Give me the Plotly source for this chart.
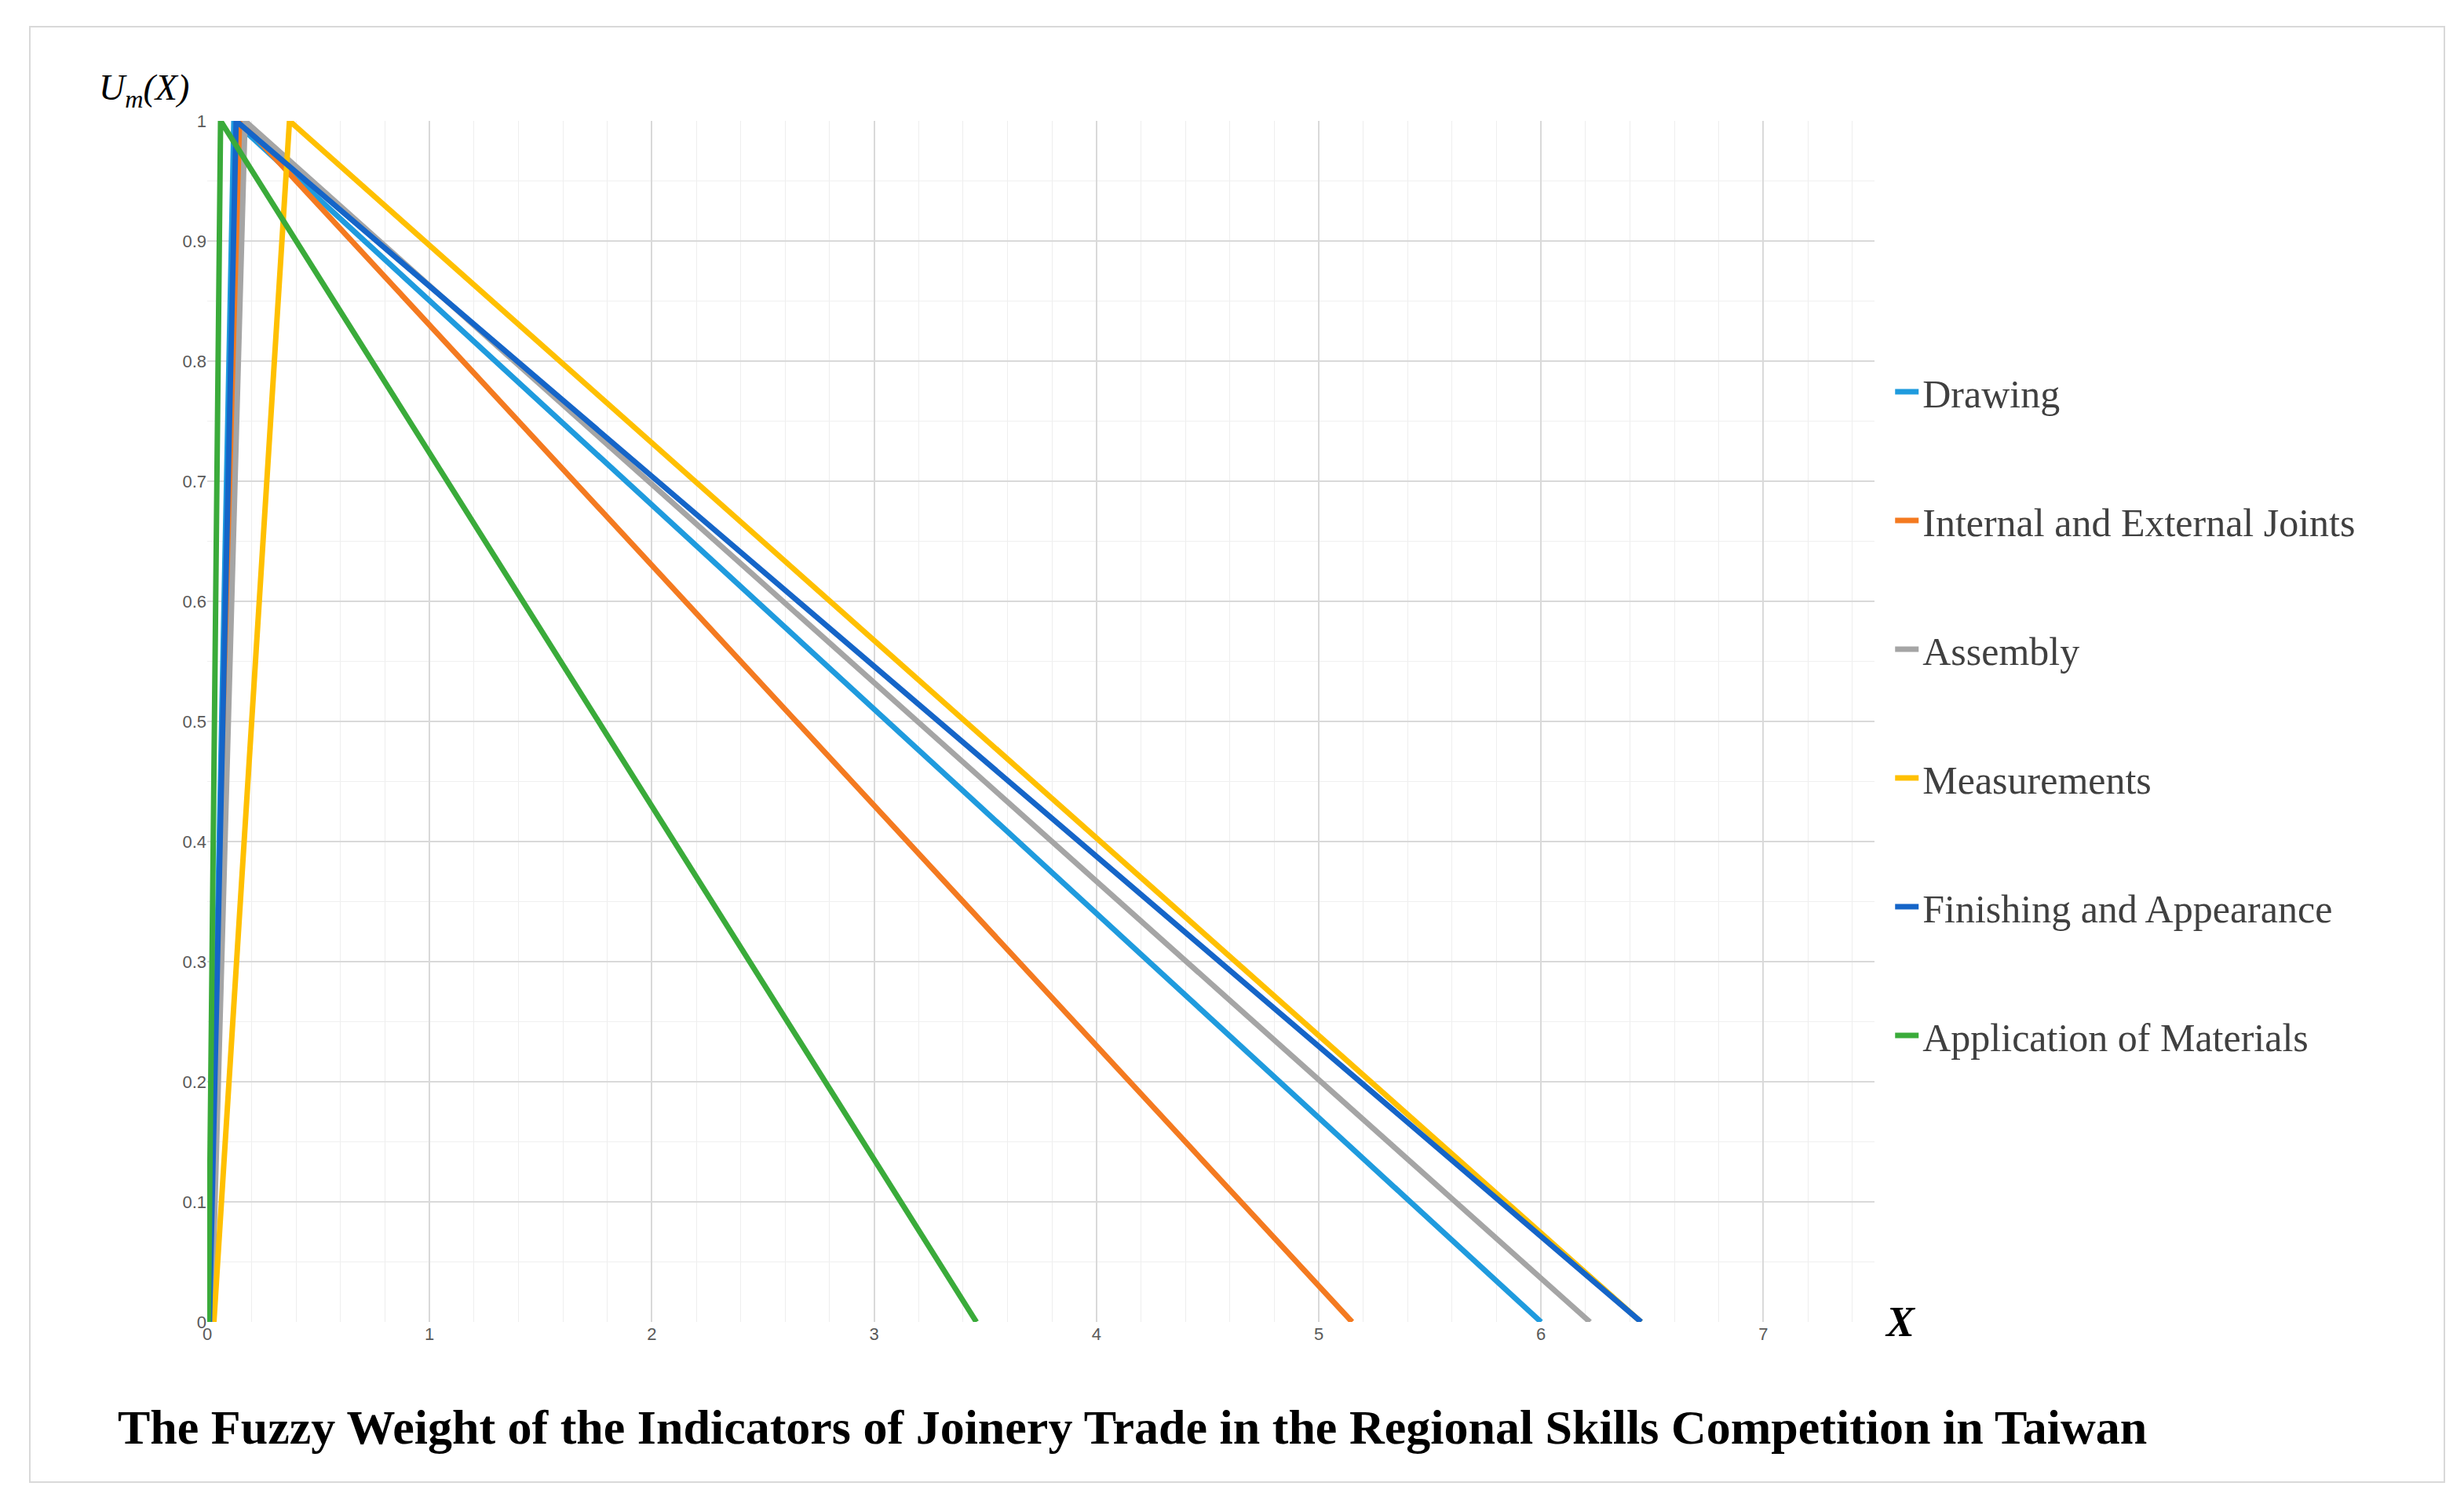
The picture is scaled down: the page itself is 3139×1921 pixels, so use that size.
import plotly.graph_objects as go

names = ["Drawing", "Internal and External Joints", "Assembly", "Measurements",
         "Finishing and Appearance", "Application of Materials"]
colors = ["#1f9bde", "#f47a20", "#a5a5a5", "#ffc000", "#1565c8", "#3aab3a"]
lows = [0.01, 0.01, 0.02, 0.03, 0.01, 0.005]
mids = [0.12, 0.15, 0.17, 0.37, 0.13, 0.06]
highs = [6.00, 5.15, 6.22, 6.45, 6.45, 3.46]
ymem = [0, 1, 0]

fig = go.Figure()
for i, (n, c, l, m, h) in enumerate(zip(names, colors, lows, mids, highs)):
    fig.add_trace(go.Scatter(x=[l, m, h], y=ymem, mode="lines", name=n, legendgroup=str(i),
                             line=dict(color=c, width=7)))

W, H = 3139, 1921
fig.update_layout(
    width=W, height=H, paper_bgcolor="white", plot_bgcolor="white",
    margin=dict(l=256, r=W - 2380, t=146, b=H - 1676),
    font=dict(family="Liberation Serif"),
    legend=dict(x=1.01, y=0.80, yanchor="top", xanchor="left",
                font=dict(size=50, color="#404040"), tracegroupgap=96,
                itemwidth=30, bgcolor="rgba(0,0,0,0)"),
    shapes=[dict(type="rect", xref="paper", yref="paper",
                 x0=-226/2124, x1=(3106-256)/2124, y0=-(1880-1676)/1530, y1=1+(146-26)/1530,
                 line=dict(color="#d9d9d9", width=2))],
    annotations=[
        dict(text="<i>U<sub>m</sub>(X)</i>", xref="paper", yref="paper", x=-0.01, y=1.005,
             xanchor="right", yanchor="bottom", showarrow=False, font=dict(size=46, color="black")),
        dict(text="<b><i>X</i></b>", xref="paper", yref="paper", x=1.005, y=0,
             xanchor="left", yanchor="middle", showarrow=False, font=dict(size=54, color="black")),
        dict(text="<b>The Fuzzy Weight of the Indicators of Joinery Trade in the Regional Skills Competition in Taiwan</b>",
             xref="paper", yref="paper", x=(140-256)/2124, y=-(1810-1676)/1530,
             xanchor="left", yanchor="middle", showarrow=False, font=dict(size=62, color="black")),
    ],
)
fig.update_xaxes(range=[0, 7.5], dtick=1, tick0=0, showgrid=True, gridcolor="#d9d9d9", gridwidth=2,
                 minor=dict(dtick=0.2, showgrid=True, gridcolor="#eeeeee", gridwidth=1),
                 tickfont=dict(family="Liberation Sans", size=22, color="#595959"),
                 zeroline=False, showline=False, ticks="")
fig.update_yaxes(range=[0, 1], dtick=0.1, showgrid=True, gridcolor="#d9d9d9", gridwidth=2,
                 minor=dict(dtick=0.05, showgrid=True, gridcolor="#f0f0f0", gridwidth=1),
                 tickfont=dict(family="Liberation Sans", size=22, color="#595959"),
                 tickformat="~g", zeroline=False, showline=False, ticks="")
fig.write_html("out.html")
